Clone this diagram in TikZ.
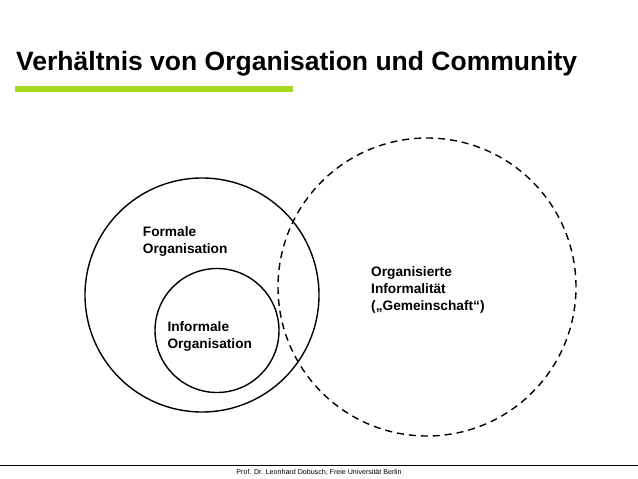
\documentclass[tikz,border=0pt]{standalone}
\usepackage{fontspec}
\setmainfont{Liberation Sans}
\definecolor{fuGreen}{RGB}{165,215,30}

\begin{document}
\begin{tikzpicture}[x=1pt,y=-1pt,
    ring/.style={circle,draw=black,line width=1.4pt,inner sep=0pt},
    lbl/.style={anchor=north west,inner sep=0pt,align=left,
      font=\fontsize{13.7}{17.3}\selectfont\bfseries}]
  \useasboundingbox (0,0) rectangle (638,479);
  % title and bar
  \node (title) at (16,70) [anchor=base west,inner sep=0pt,
    font=\fontsize{26.5}{30}\selectfont\bfseries]{Verhältnis von Organisation und Community};
  \fill[fuGreen] (15,85.5) rectangle (293,92);
  % circles
  \node (formal) at (202,295) [ring,minimum size=234pt]{};
  \node (informal) at (217,330.5) [ring,minimum size=124pt]{};
  \node (community) at (427,287) [ring,dash pattern=on 7pt off 5pt,minimum size=298pt]{};
  % labels
  \node (formalText) at (142.7,226) [lbl]{Formale\\Organisation};
  \node (informalText) at (167.3,321.5) [lbl]{Informale\\Organisation};
  \node (communityText) at (371,266) [lbl]{Organisierte\\Informalität\\(„Gemeinschaft“)};
  % footer
  \coordinate (footL) at (0,465);
  \coordinate (footR) at (638,465);
  \draw[line width=1pt] (footL) -- (footR);
  \node (footer) at (319,472.5) [inner sep=0pt,font=\fontsize{7.1}{8.5}\selectfont]
    {Prof. Dr. Leonhard Dobusch, Freie Universität Berlin};
\end{tikzpicture}
\end{document}
